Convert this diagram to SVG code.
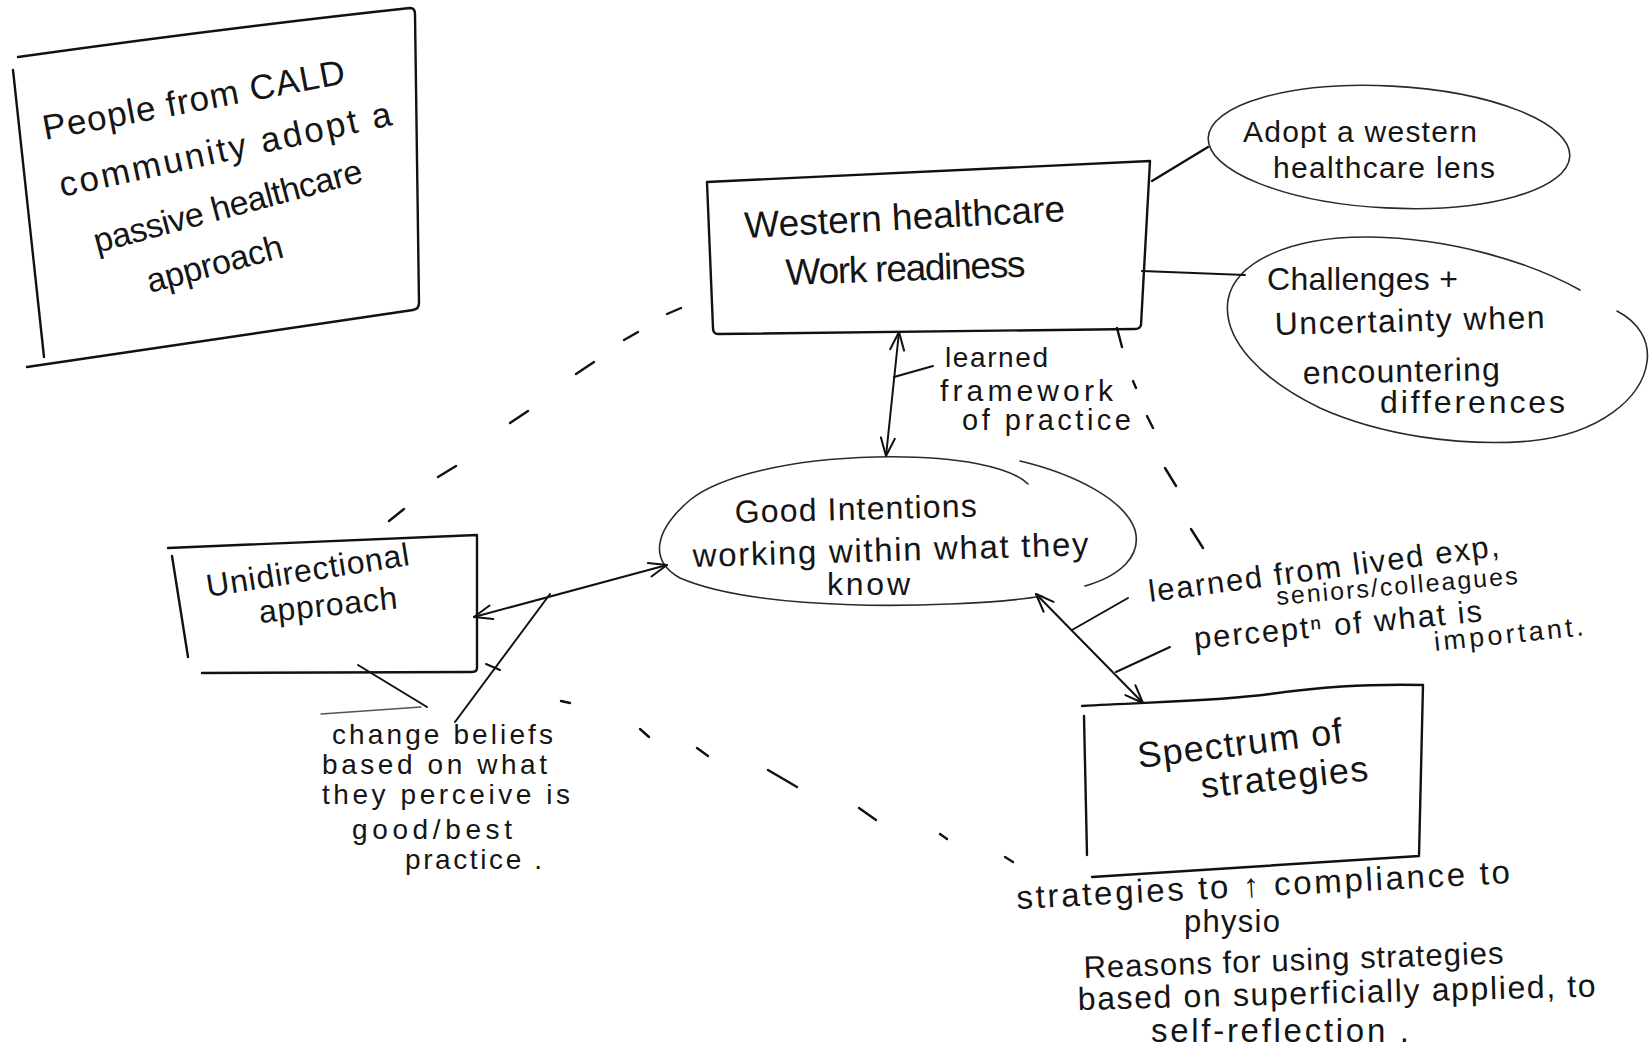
<svg xmlns="http://www.w3.org/2000/svg" width="1649" height="1058" viewBox="0 0 1649 1058">
<style>
.t{font-family:"Liberation Sans",Arial,sans-serif;fill:#151515}
.box{fill:none;stroke:#111;stroke-width:2.4;stroke-linecap:round;stroke-linejoin:round}
.ell{fill:none;stroke:#2a2a2a;stroke-width:1.6;stroke-linecap:round}
.ln{fill:none;stroke:#111;stroke-width:2;stroke-linecap:round}
.dash{fill:none;stroke:#111;stroke-width:2.4;stroke-linecap:round}
.thin{fill:none;stroke:#555;stroke-width:1.4;stroke-linecap:round}
</style>
<defs>
<marker id="ah" viewBox="-20 -10 22 20" refX="0" refY="0" markerWidth="22" markerHeight="20" markerUnits="userSpaceOnUse" orient="auto-start-reverse">
<path d="M-18,-7 L0,0 L-18,7" fill="none" stroke="#111" stroke-width="2" stroke-linecap="round" stroke-linejoin="round"/>
</marker>
</defs>
<rect width="1649" height="1058" fill="#fff"/>

<g id="cald">
<path class="box" d="M18,57 C140,40 280,22 410,8 Q415,8 415,14 L419,303 Q419,309 413,310 L27,367"/>
<path class="box" d="M13,70 L44,357"/>
<text class="t" font-size="35" x="45" y="140" textLength="307" transform="rotate(-10.7 45 140)">People from CALD</text>
<text class="t" font-size="35" x="62" y="197" textLength="339" transform="rotate(-12.3 62 197)">community adopt a</text>
<text class="t" font-size="34" x="97" y="253" textLength="277" transform="rotate(-15 97 253)">passive healthcare</text>
<text class="t" font-size="34" x="150" y="293" textLength="140" transform="rotate(-15 150 293)">approach</text>
</g>

<g id="western">
<path class="box" d="M707,182 L1150,161 L1141,325 Q1140,329 1135,329 L718,334 Q713,334 713,328 Z"/>
<text class="t" font-size="37" x="745" y="238" textLength="321" transform="rotate(-3 745 238)">Western healthcare</text>
<text class="t" font-size="37" x="786" y="285" textLength="240" transform="rotate(-2 786 285)">Work readiness</text>
</g>

<g id="adopt">
<ellipse class="ell" cx="1389" cy="147" rx="181" ry="61" transform="rotate(3 1389 147)"/>
<text class="t" font-size="30" x="1243" y="142" textLength="234">Adopt a western</text>
<text class="t" font-size="30" x="1273" y="178" textLength="222">healthcare lens</text>
</g>

<g id="challenges">
<path class="ell" d="M1580,290 C1530,262 1450,238 1370,237 C1290,236 1235,262 1228,300 C1222,340 1262,380 1320,408 C1380,435 1460,447 1530,441 C1600,434 1642,398 1647,362 C1650,340 1638,322 1617,311"/>
<text class="t" font-size="32" x="1267" y="290" textLength="191">Challenges +</text>
<text class="t" font-size="32" x="1275" y="335" textLength="270" transform="rotate(-1.5 1275 335)">Uncertainty when</text>
<text class="t" font-size="32" x="1303" y="384" textLength="197" transform="rotate(-1.2 1303 384)">encountering</text>
<text class="t" font-size="32" x="1380" y="413" textLength="185">differences</text>
</g>

<g id="good-intentions">
<path class="ell" d="M1028,484 C1012,468 960,455 875,457 C790,459 720,476 690,500 C655,530 648,560 680,578 C740,604 860,608 950,604 C1000,602 1025,599 1042,596"/>
<path class="ell" d="M1020,461 C1075,474 1125,500 1135,530 C1142,556 1120,576 1085,586"/>
<text class="t" font-size="32" x="735" y="523" textLength="242" transform="rotate(-1.5 735 523)">Good Intentions</text>
<text class="t" font-size="33" x="693" y="567" textLength="396" transform="rotate(-1.7 693 567)">working within what they</text>
<text class="t" font-size="32" x="827" y="595" textLength="83">know</text>
</g>

<g id="unidirectional">
<path class="box" d="M168,548 L477,535 L477,668 Q477,672 472,672 L202,673"/>
<path class="box" d="M172,556 L188,657"/>
<text class="t" font-size="32" x="208" y="597" textLength="205" transform="rotate(-9 208 597)">Unidirectional</text>
<text class="t" font-size="32" x="260" y="623" textLength="139" transform="rotate(-6 260 623)">approach</text>
</g>

<g id="spectrum">
<path class="box" d="M1082,706 C1150,702 1220,701 1270,694 C1320,687 1360,684 1423,685 L1419,856 L1092,877"/>
<path class="box" d="M1084,716 L1087,855"/>
<text class="t" font-size="36" x="1139" y="768" textLength="206" transform="rotate(-7 1139 768)">Spectrum of</text>
<text class="t" font-size="36" x="1202" y="798" textLength="168" transform="rotate(-6 1202 798)">strategies</text>
</g>

<g id="label-framework">
<text class="t" font-size="28" x="945" y="367" textLength="103">learned</text>
<text class="t" font-size="30" x="940" y="401" textLength="173">framework</text>
<text class="t" font-size="29" x="962" y="430" textLength="169">of practice</text>
</g>

<g id="label-beliefs">
<text class="t" font-size="28" x="332" y="744" textLength="221">change beliefs</text>
<text class="t" font-size="28" x="322" y="774" textLength="225">based on what</text>
<text class="t" font-size="28" x="322" y="804" textLength="248">they perceive is</text>
<text class="t" font-size="28" x="352" y="839" textLength="160">good/best</text>
<text class="t" font-size="28" x="405" y="869" textLength="137">practice .</text>
</g>

<g id="label-learned">
<text class="t" font-size="31" x="1150" y="602" textLength="353" transform="rotate(-7.5 1150 602)">learned from lived exp,</text>
<text class="t" font-size="25" x="1277" y="605" textLength="242" transform="rotate(-5 1277 605)">seniors/colleagues</text>
<text class="t" font-size="31" x="1195" y="649" textLength="289" transform="rotate(-5.5 1195 649)">perceptⁿ of what is</text>
<text class="t" font-size="27" x="1435" y="651" textLength="150" transform="rotate(-6 1435 651)">important.</text>
</g>

<g id="label-strategies">
<text class="t" font-size="33" x="1017" y="909" textLength="494" transform="rotate(-3 1017 909)">strategies to ↑ compliance to</text>
<text class="t" font-size="31" x="1184" y="932" textLength="96">physio</text>
<text class="t" font-size="31" x="1084" y="978" textLength="420" transform="rotate(-2 1084 978)">Reasons for using strategies</text>
<text class="t" font-size="32" x="1078" y="1010" textLength="518" transform="rotate(-1.5 1078 1010)">based on superficially applied, to</text>
<text class="t" font-size="33" x="1151" y="1042" textLength="258">self-reflection .</text>
</g>

<g id="connectors">
<path class="box" d="M1152,181 L1208,147"/>
<path class="ln" d="M1142,271 L1245,275"/>
<path class="ln" d="M899,332 L886,456" marker-start="url(#ah)" marker-end="url(#ah)"/>
<path class="ln" d="M894,377 L933,366"/>
<path class="ln" d="M474,617 L667,565" marker-start="url(#ah)" marker-end="url(#ah)"/>
<path class="ln" stroke-width="1.6" d="M550,594 L455,722"/>
<path class="ln" stroke-width="1.6" d="M486,664 L500,670"/>
<path class="ln" d="M358,665 L427,707"/>
<path class="thin" d="M321,714 L421,707"/>
<path class="ln" d="M1036,594 L1143,703" marker-start="url(#ah)" marker-end="url(#ah)"/>
<path class="ln" d="M1072,630 L1128,598"/>
<path class="ln" d="M1116,672 L1170,647"/>
<g id="dashes-left">
<path class="dash" d="M681,308 L667,314"/>
<path class="dash" d="M638,332 L624,340"/>
<path class="dash" d="M594,362 L576,374"/>
<path class="dash" d="M528,411 L510,423"/>
<path class="dash" d="M456,466 L438,477"/>
<path class="dash" d="M404,509 L389,521"/>
</g>
<g id="dashes-bottom">
<path class="dash" d="M561,701 L570,703"/>
<path class="dash" d="M640,729 L649,737"/>
<path class="dash" d="M697,748 L708,756"/>
<path class="dash" d="M768,770 L797,787"/>
<path class="dash" d="M859,808 L876,820"/>
<path class="dash" d="M940,834 L947,839"/>
<path class="dash" d="M1005,857 L1013,862"/>
</g>
<g id="dashes-right">
<path class="dash" d="M1117,328 L1122,347"/>
<path class="dash" d="M1133,381 L1136,388"/>
<path class="dash" d="M1147,416 L1153,428"/>
<path class="dash" d="M1165,468 L1176,486"/>
<path class="dash" d="M1191,529 L1203,548"/>
</g>
</g>
</svg>
